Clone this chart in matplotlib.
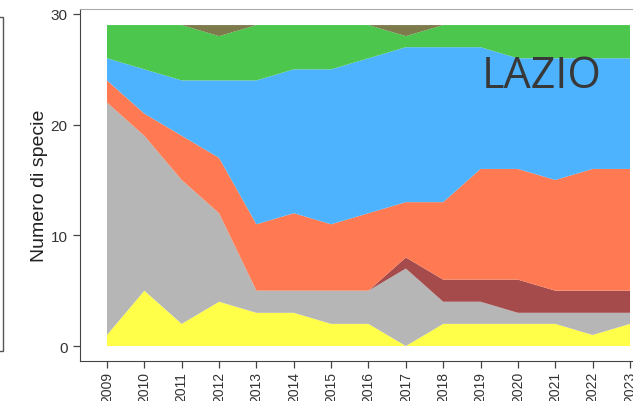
import numpy as np
import matplotlib.pyplot as plt
from matplotlib.patches import Rectangle

years = list(range(2009, 2024))
# species counts per group, stacked bottom -> top
giallo = [1, 5, 2, 4, 3, 3, 2, 2, 0, 2, 2, 2, 2, 1, 2]
grigio = [21, 14, 13, 8, 2, 2, 3, 3, 7, 2, 2, 1, 1, 2, 1]
rosso_scuro = [0, 0, 0, 0, 0, 0, 0, 0, 1, 2, 2, 3, 2, 2, 2]
arancio = [2, 2, 4, 5, 6, 7, 6, 7, 5, 7, 10, 10, 10, 11, 11]
azzurro = [2, 4, 5, 7, 13, 13, 14, 14, 14, 14, 11, 10, 11, 10, 10]
verde = [3, 4, 5, 4, 5, 4, 4, 3, 1, 2, 2, 3, 3, 3, 3]
oliva = [0, 0, 0, 1, 0, 0, 0, 0, 1, 0, 0, 0, 0, 0, 0]

colori = ["#FFFF4A", "#B6B6B6", "#A64B4B", "#FF7A52", "#4DB3FF", "#4CC64C", "#7D7A4C"]

W, H = 633, 402
fig = plt.figure(figsize=(W / 100, H / 100), dpi=100)
ax = fig.add_axes([80 / W, 40 / H, (645 - 80) / W, (362 - 10) / H])

ax.stackplot(years, giallo, grigio, rosso_scuro, arancio, azzurro, verde, oliva,
             colors=colori, linewidth=0)

ax.set_xlim(2009 - 27 / 37.36, 2023 + 15 / 37.36)
ax.set_ylim(-15 / 11.067, 30 + 5 / 11.067)
ax.set_xticks(years)
ax.set_xticklabels([str(y) for y in years], rotation=90)
ax.set_yticks([0, 10, 20, 30])

fnt = "Liberation Sans"
for lab in ax.get_xticklabels():
    lab.set_fontfamily(fnt)
    lab.set_fontsize(10)
    lab.set_color("#333333")
for lab in ax.get_yticklabels():
    lab.set_fontfamily(fnt)
    lab.set_fontsize(11)
    lab.set_color("#333333")
ax.tick_params(axis="both", length=5, width=0.9, color="#444444")
ax.tick_params(axis="x", pad=2)
ax.tick_params(axis="y", pad=4)

ax.set_ylabel("Numero di specie", fontfamily=fnt, fontsize=14, color="#222222", labelpad=2)

ax.spines["left"].set_color("#444444")
ax.spines["bottom"].set_color("#444444")
ax.spines["top"].set_color("#aaaaaa")
ax.spines["right"].set_visible(False)

fig.text(602 / W, (H - 88) / H, "LAZIO", fontfamily="Open Sans", fontsize=31,
         color="#383838", ha="right", va="baseline")

# edge of the neighbouring panel
fig.add_artist(Rectangle((-20 / W, (H - 352) / H), 23 / W, (352 - 18) / H,
                         transform=fig.transFigure, fill=False,
                         edgecolor="#555555", linewidth=1))

fig.savefig("out.png", dpi=100)
